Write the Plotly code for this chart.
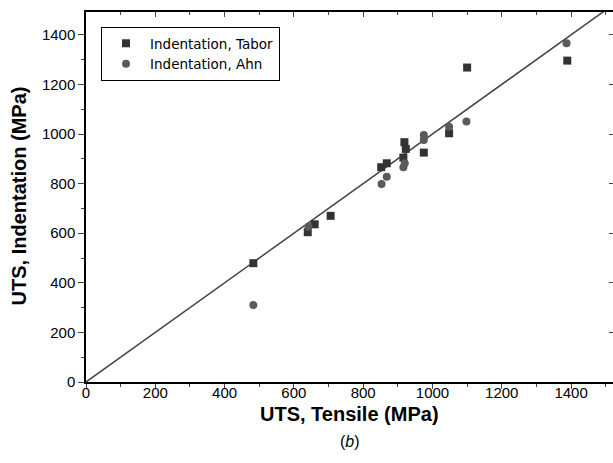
import plotly.graph_objects as go

# Data
tabor_x = [483, 640, 660, 706, 852, 868, 919, 923, 916, 975, 1048, 1100, 1389]
tabor_y = [479, 604, 636, 670, 866, 882, 967, 940, 905, 925, 1003, 1268, 1296]
ahn_x = [483, 642, 853, 868, 916, 920, 975, 975, 1048, 1098, 1387]
ahn_y = [310, 626, 798, 828, 866, 882, 996, 976, 1029, 1050, 1366]
line_x = [0, 1600]
line_y = [0, 1600]

x_ticks = [0, 200, 400, 600, 800, 1000, 1200, 1400]
y_ticks = [0, 200, 400, 600, 800, 1000, 1200, 1400]

FONT = "Liberation Sans, Arial, sans-serif"
XR = [0, 1521]
YR = [0, 1492]

fig = go.Figure()
fig.add_trace(go.Scatter(x=line_x, y=line_y, mode="lines",
                         line=dict(color="#444444", width=1.5),
                         showlegend=False, hoverinfo="skip"))
fig.add_trace(go.Scatter(x=tabor_x, y=tabor_y, mode="markers", name="Indentation, Tabor",
                         marker=dict(symbol="square", size=8, color="#333333")))
fig.add_trace(go.Scatter(x=ahn_x, y=ahn_y, mode="markers", name="Indentation, Ahn",
                         marker=dict(symbol="circle", size=8, color="#5a5a5a")))
# invisible trace to anchor mirror axes
fig.add_trace(go.Scatter(x=[0], y=[0], xaxis="x2", yaxis="y2", mode="markers",
                         marker=dict(opacity=0), showlegend=False, hoverinfo="skip"))

fig.update_layout(
    width=613, height=463,
    margin=dict(l=86, r=0, t=12, b=81, autoexpand=False),
    paper_bgcolor="white", plot_bgcolor="white",
    font=dict(family=FONT, color="black", size=15),
    xaxis=dict(range=XR, tickvals=x_ticks, ticks="outside", ticklen=5, tickwidth=1.2,
               automargin=False, ticklabelstandoff=-9,
               showline=True, linecolor="black", linewidth=1.5, showgrid=False, zeroline=False,
               minor=dict(ticks="outside", ticklen=3, dtick=100, tick0=0, showgrid=False),
               tickfont=dict(size=15)),
    yaxis=dict(range=YR, tickvals=y_ticks, ticks="outside", ticklen=6, tickwidth=1.2,
               automargin=False,
               showline=True, linecolor="black", linewidth=1.5, showgrid=False, zeroline=False,
               minor=dict(ticks="outside", ticklen=3, dtick=100, tick0=0, showgrid=False),
               tickfont=dict(size=15)),
    xaxis2=dict(range=XR, overlaying="x", side="top", tickvals=x_ticks, ticks="inside",
                automargin=False,
                ticklen=5, tickwidth=1.2, showticklabels=False, showline=True,
                linecolor="black", linewidth=1.5, showgrid=False, zeroline=False,
                minor=dict(ticks="inside", ticklen=3, dtick=100, tick0=0, showgrid=False)),
    yaxis2=dict(range=YR, overlaying="y", side="right", tickvals=y_ticks, ticks="inside",
                automargin=False,
                ticklen=4, tickwidth=1.2, showticklabels=False, showline=False,
                showgrid=False, zeroline=False),
    legend=dict(x=0.0285, y=0.9595, xanchor="left", yanchor="top",
                bgcolor="white", bordercolor="black", borderwidth=1,
                font=dict(size=13.5, family="DejaVu Sans"), tracegroupgap=0,
                itemwidth=38),
    annotations=[
        dict(text="<b>UTS, Tensile (MPa)</b>", x=0.5, y=-0.087, xref="paper", yref="paper",
             xanchor="center", yanchor="middle", showarrow=False, font=dict(size=20)),
        dict(text="<b>UTS, Indentation (MPa)</b>", x=-0.128, y=0.503, xref="paper", yref="paper",
             xanchor="center", yanchor="middle", showarrow=False, textangle=-90,
             font=dict(size=20)),
        dict(text="(<i>b</i>)", x=0.5, y=-0.16, xref="paper", yref="paper",
             xanchor="center", yanchor="middle", showarrow=False, font=dict(size=16)),
    ],
)

fig.write_html("out.html", config={"displayModeBar": False},
               post_script="document.body.style.margin='0';")
